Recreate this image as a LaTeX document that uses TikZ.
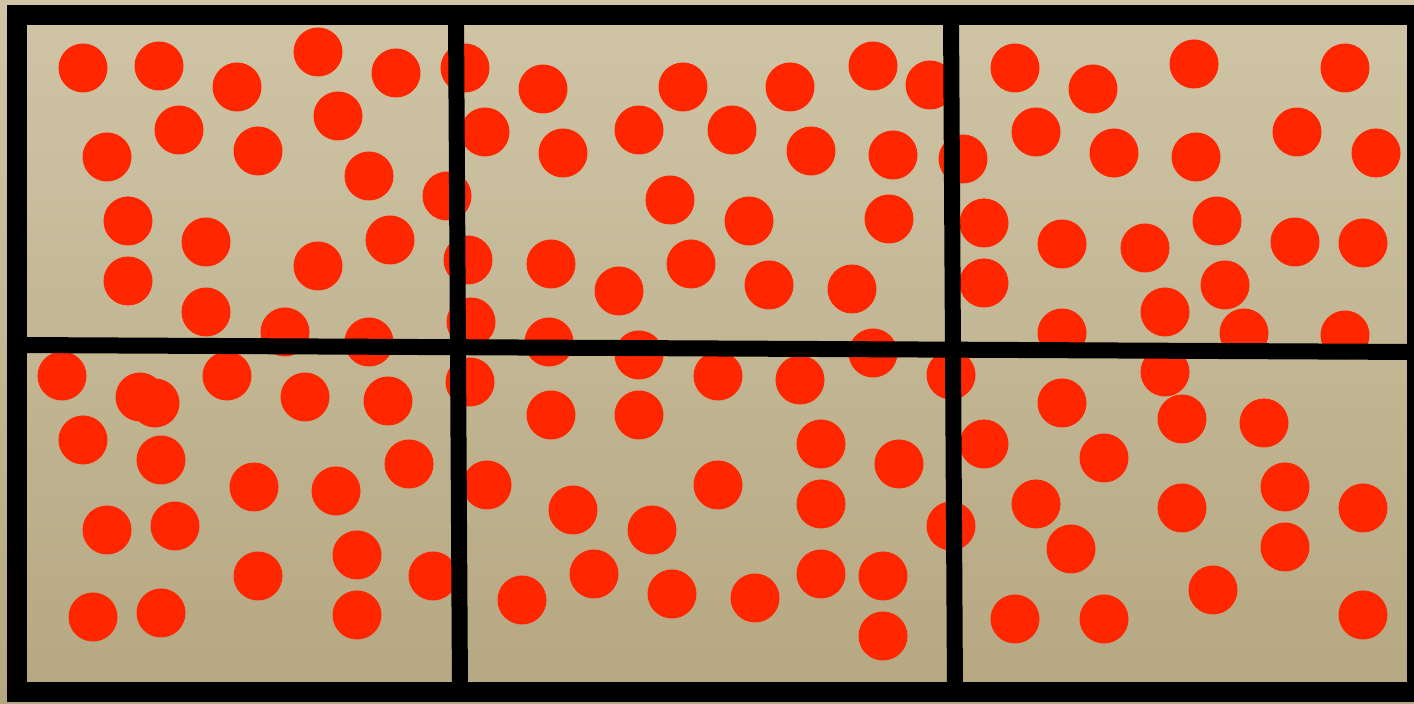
\documentclass[tikz,border=0pt]{standalone}
\usepackage{tikz}
\usetikzlibrary{calc}
\definecolor{sandtop}{HTML}{CFC5A6}
\definecolor{sandbottom}{HTML}{B5A781}
\definecolor{dotred}{HTML}{FF2600}
\definecolor{gridblack}{HTML}{000000}
\newcommand{\dotrad}{12.25pt}

\begin{document}
\begin{tikzpicture}[x=0.5pt, y=-0.5pt]
          \useasboundingbox (0,0) rectangle (1414,704);
          \shade[top color=sandtop, bottom color=sandbottom] (0,0) rectangle (1414,704);
          % top row of cells
          \foreach \px/\py in {83/68, 159/66, 237/87, 318/52, 396/73, 465/68, 179/130, 338/116,
              107/157, 258/151, 369/176, 447/196, 128/221, 206/242, 318/266, 390/240,
              128/281, 206/312, 285/332, 369/342, 485/132, 468/260, 471/322,
              543/89, 683/87, 790/87, 873/66, 930/85, 563/153, 639/130, 732/130, 811/151,
              893/155, 963/159, 670/200, 749/221, 889/219, 551/264, 619/291, 691/264,
              769/285, 852/289, 549/342, 639/355, 873/353,
              1015/68, 1093/89, 1194/64, 1345/68, 1036/132, 1114/153, 1196/157, 1297/132,
              1376/153, 984/223, 1062/244, 1145/248, 1217/221, 1295/242, 1363/243,
              984/283, 1225/285, 1165/312, 1062/333, 1244/333, 1345/335}
            \fill[dotred] (\px,\py) circle[radius=\dotrad];
          % bottom row of cells
          \foreach \px/\py in {62/376, 140/397, 155/403, 227/376, 305/397, 388/401, 470/382,
              83/440, 161/460, 254/487, 336/491, 409/464, 107/530, 175/526, 258/576,
              357/555, 433/576, 93/617, 161/613, 357/615,
              718/376, 800/380, 951/375, 551/415, 639/415, 821/444, 899/464, 487/485,
              573/510, 652/530, 718/485, 821/504, 951/526, 522/600, 594/574, 672/594,
              755/598, 821/574, 883/576, 883/636,
              1165/372, 1062/403, 1182/419, 1264/423, 984/444, 1104/458, 1036/504,
              1182/508, 1285/487, 1363/508, 1071/549, 1285/547, 1213/590, 1015/619,
              1104/619, 1363/615}
            \fill[dotred] (\px,\py) circle[radius=\dotrad];
          % frame and grid lines
          \coordinate (tl) at (17,15);
          \coordinate (br) at (1417,692);
          \draw[line width=10pt, gridblack] (tl) rectangle (br);
          \draw[line width=8pt, gridblack] (17,345) -- (1417,352);
          \draw[line width=8pt, gridblack] (456,15) -- (460,692);
          \draw[line width=8pt, gridblack] (951,15) -- (955,692);
        \end{tikzpicture}
\end{document}
